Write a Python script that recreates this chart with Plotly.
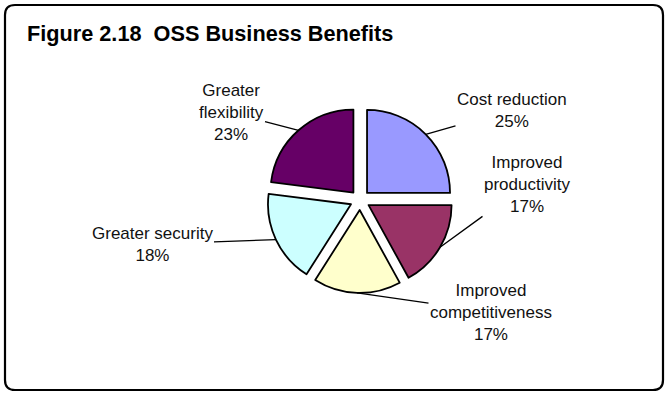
import math
import plotly.graph_objects as go

# ---- data ----
categories = ["Cost reduction", "Improved productivity", "Improved competitiveness",
              "Greater security", "Greater flexibility"]
label_lines = ["Cost reduction", "Improved<br>productivity", "Improved<br>competitiveness",
               "Greater security", "Greater<br>flexibility"]
values = [25, 17, 17, 18, 23]
colors = ["#9999FF", "#993366", "#FFFFCC", "#CCFFFF", "#660066"]

# ---- layout constants ----
W, H = 666, 393
cx, cy = 360, 200          # pie centre (px)
R = 83                     # pie radius (px)
PULL = 0.12
# label centres (px) for the text annotations
label_pos = [(512, 110), (527, 184), (491, 312), (152, 244), (231, 113)]

half = R * (1 + PULL)
dom_x = [(cx - half) / W, (cx + half) / W]
dom_y = [1 - (cy + half) / H, 1 - (cy - half) / H]

fig = go.Figure()
fig.add_trace(go.Pie(
    labels=categories, values=values, sort=False, direction="clockwise", rotation=0,
    pull=[PULL] * len(values),
    marker=dict(colors=colors, line=dict(color="black", width=1.8)),
    textinfo="none", hoverinfo="skip", showlegend=False,
    domain=dict(x=dom_x, y=dom_y),
))

total = sum(values)
annotations = []
cum = 0
for lab, v, (tx, ty) in zip(label_lines, values, label_pos):
    mid = (cum + v / 2) / total * 2 * math.pi
    cum += v
    hx = cx + R * (1 + PULL) * math.sin(mid)
    hy = cy - R * (1 + PULL) * math.cos(mid)
    pct = round(v / total * 100)
    annotations.append(dict(
        x=hx / W, y=1 - hy / H, xref="paper", yref="paper",
        ax=tx - hx, ay=ty - hy, axref="pixel", ayref="pixel",
        text=f"{lab}<br>{pct}%", showarrow=True, arrowhead=0, arrowwidth=1.3,
        arrowcolor="black", standoff=0, startstandoff=0,
        font=dict(family="Liberation Sans, Arial", size=17, color="#111111"),
        align="center",
    ))

annotations.append(dict(
    x=25 / W, y=1 - 33 / H, xref="paper", yref="paper", xanchor="left", yanchor="middle",
    text="<b>Figure 2.18\u00a0 OSS Business Benefits</b>", showarrow=False,
    font=dict(family="Liberation Sans, Arial", size=21.7, color="black"),
))

# rounded border
x0, y0, x1, y1, rr = 5 / W, 1 - 5 / H, 663 / W, 1 - 390 / H, 10
rx, ry = rr / W, rr / H
path = (f"M {x0+rx},{y0} L {x1-rx},{y0} Q {x1},{y0} {x1},{y0-ry} "
        f"L {x1},{y1+ry} Q {x1},{y1} {x1-rx},{y1} L {x0+rx},{y1} "
        f"Q {x0},{y1} {x0},{y1+ry} L {x0},{y0-ry} Q {x0},{y0} {x0+rx},{y0} Z")

fig.update_layout(
    width=W, height=H, margin=dict(l=0, r=0, t=0, b=0),
    paper_bgcolor="white", plot_bgcolor="white",
    annotations=annotations,
    shapes=[dict(type="path", path=path, xref="paper", yref="paper",
                 line=dict(color="black", width=2.2), layer="above")],
)
fig.write_html("out.html")
